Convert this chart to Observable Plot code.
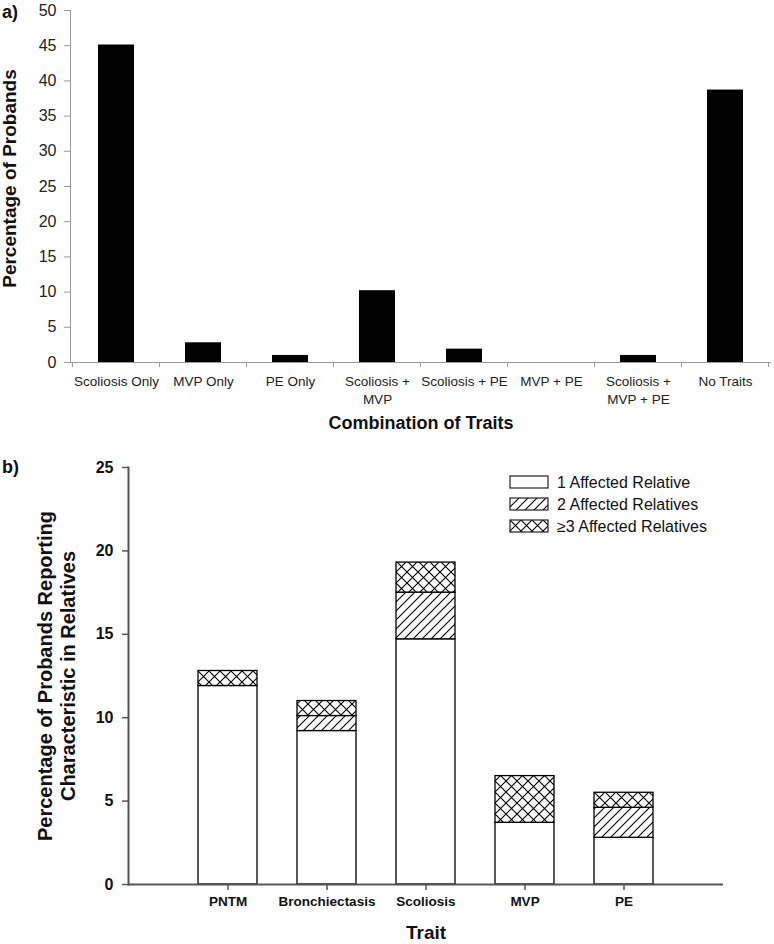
<!DOCTYPE html>
<html><head><meta charset="utf-8">
<script src="https://cdn.jsdelivr.net/npm/d3@7"></script>
<script src="https://cdn.jsdelivr.net/npm/@observablehq/plot@0.6"></script>
<style>
body{margin:0;background:#fff;font-family:Arial,"Liberation Sans",sans-serif;}
#wrap{position:relative;width:774px;height:944px;overflow:hidden;background:#fff;}
#wrap svg{display:block;}
.panel{position:absolute;left:2px;font-weight:bold;font-size:18px;line-height:20px;color:#111;}
#chartA{position:absolute;left:0;top:0;}
#chartB{position:absolute;left:0;top:440px;}
#legend{position:absolute;left:508px;top:472px;}
#chartB g[aria-label="y-axis tick label"], #chartB g[aria-label="x-axis tick label"]{font-weight:bold;}
</style></head><body>
<svg width="0" height="0" style="position:absolute">
<defs>
<pattern id="hatch" patternUnits="userSpaceOnUse" width="9" height="9">
<rect width="9" height="9" fill="white"/>
<path d="M-1,1 L1,-1 M0,9 L9,0 M8,10 L10,8" stroke="#000" stroke-width="1.1"/>
</pattern>
<pattern id="cross" patternUnits="userSpaceOnUse" width="11" height="11">
<rect width="11" height="11" fill="white"/>
<path d="M0,0 L11,11 M11,0 L0,11" stroke="#000" stroke-width="1.1"/>
</pattern>
</defs>
</svg>
<div id="wrap">
<div id="chartA"></div>
<div id="chartB"></div>
<div id="legend"></div>
<div class="panel" style="top:2px;">a)</div>
<div class="panel" style="top:457px;">b)</div>
</div>
<script>
// ---- Panel a data ----
const comboCategories = ["Scoliosis Only","MVP Only","PE Only","Scoliosis + MVP","Scoliosis + PE","MVP + PE","Scoliosis + MVP + PE","No Traits"];
const comboTickLabels = ["Scoliosis Only","MVP Only","PE Only","Scoliosis +\nMVP","Scoliosis + PE","MVP + PE","Scoliosis +\nMVP + PE","No Traits"];
const comboValues = [45.1, 2.8, 1.0, 10.2, 1.9, 0, 1.0, 38.7];
const yTicksA = [0,5,10,15,20,25,30,35,40,45,50];

// ---- Panel b data ----
const traits = ["PNTM","Bronchiectasis","Scoliosis","MVP","PE"];
const seriesNames = ["1 Affected Relative","2 Affected Relatives","\u22653 Affected Relatives"];
const oneRelative = [11.9, 9.2, 14.7, 3.7, 2.8];
const twoRelatives = [0, 0.9, 2.8, 0, 1.8];
const threePlusRelatives = [0.9, 0.9, 1.8, 2.8, 0.9];
const yTicksB = [0,5,10,15,20,25];

const seriesFill = ["white","url(#hatch)","url(#cross)"];
const font = 'Arial, "Liberation Sans", sans-serif';

// ---- Chart a ----
const comboData = comboCategories.map((c,i)=>({combo:c, value:comboValues[i]}));
const labelMap = new Map(comboCategories.map((c,i)=>[c, comboTickLabels[i]]));
const gA = "#9a9a9a";
const chartA = Plot.plot({
  width:774, height:440, marginLeft:70, marginRight:3, marginTop:10, marginBottom:78,
  style:{fontFamily:font, color:"#222", background:"white", overflow:"visible"},
  x:{domain:comboCategories, paddingInner:0.59, paddingOuter:0.295, label:null},
  y:{domain:[0,50], label:null},
  marks:[
    Plot.barY(comboData,{x:"combo", y:"value", fill:"black"}),
    Plot.axisY({ticks:yTicksA, tickSize:6, tickPadding:8, fontSize:16, stroke:gA, label:null}),
    Plot.axisX({tickSize:0, tickPadding:11, tickFormat:d=>labelMap.get(d), lineHeight:1.3, fontSize:13.5, label:null}),
    Plot.ruleY([0],{stroke:gA}),
    Plot.frame({anchor:"left", stroke:gA}),
    Plot.text(["Percentage of Probands"],{frameAnchor:"left", textAnchor:"middle", lineAnchor:"middle", rotate:-90, dx:-61, dy:-8, fontSize:19, fontWeight:"bold", fill:"#111"}),
    Plot.text(["Combination of Traits"],{frameAnchor:"bottom", dy:61, lineAnchor:"middle", fontSize:18, fontWeight:"bold", fill:"#111"})
  ]
});
document.getElementById("chartA").append(chartA);
// Excel-style ticks between categories, from the plot's own x scale
{
  const sx = chartA.scale("x"), sy = chartA.scale("y");
  const off = (sx.step - sx.bandwidth)/2;
  const bounds = comboCategories.map(c=>sx.apply(c)-off);
  bounds.push(bounds[bounds.length-1]+sx.step);
  const y0 = sy.apply(0);
  d3.select(chartA).append("g").selectAll("line").data(bounds).join("line")
    .attr("x1",d=>d).attr("x2",d=>d).attr("y1",y0).attr("y2",y0+5).attr("stroke",gA);
}

// ---- Chart b ----
const seriesValues = [oneRelative, twoRelatives, threePlusRelatives];
const stackData = [];
seriesValues.forEach((vals,si)=>traits.forEach((t,ti)=>stackData.push({trait:t, series:seriesNames[si], si, value:vals[ti]})));
const gB = "#555";
const chartB = Plot.plot({
  width:774, height:504, marginLeft:128, marginRight:51, marginTop:27, marginBottom:60,
  style:{fontFamily:font, color:"#111", background:"white", overflow:"visible"},
  x:{domain:traits, paddingInner:0.4, paddingOuter:0.7, label:null},
  y:{domain:[0,25], label:null},
  color:{type:"identity"},
  marks:[
    Plot.barY(stackData,{x:"trait", y:"value", fill:d=>seriesFill[d.si], stroke:"black", strokeWidth:1.3}),
    Plot.axisY({ticks:yTicksB, tickSize:6, tickPadding:9, fontSize:16, fontWeight:"bold", stroke:gB, strokeWidth:1.5, label:null}),
    Plot.axisX({tickSize:6, tickPadding:6, fontSize:13.5, fontWeight:"bold", stroke:gB, strokeWidth:1.5, label:null}),
    Plot.ruleY([0],{stroke:gB, strokeWidth:2}),
    Plot.frame({anchor:"left", stroke:gB, strokeWidth:2}),
    Plot.text(["Percentage of Probands Reporting\nCharacteristic in Relatives"],{frameAnchor:"left", textAnchor:"middle", lineAnchor:"middle", rotate:-90, dx:-72, fontSize:20, fontWeight:"bold", lineHeight:1.15}),
    Plot.text(["Trait"],{frameAnchor:"bottom", dy:48, lineAnchor:"middle", fontSize:19, fontWeight:"bold"})
  ]
});
document.getElementById("chartB").append(chartB);

// ---- Legend ----
{
  const svg = d3.select("#legend").append("svg").attr("width",240).attr("height",64);
  const g = svg.selectAll("g").data(seriesNames).join("g").attr("transform",(d,i)=>`translate(2,${4+i*22})`);
  g.append("rect").attr("width",38).attr("height",12).attr("fill",(d,i)=>seriesFill[i]).attr("stroke","#222").attr("stroke-width",1.2);
  g.append("text").attr("x",47).attr("y",6).attr("dy","0.35em").attr("font-size",16).attr("font-family",font).attr("fill","#111").text(d=>d);
}
</script>
</body></html>
